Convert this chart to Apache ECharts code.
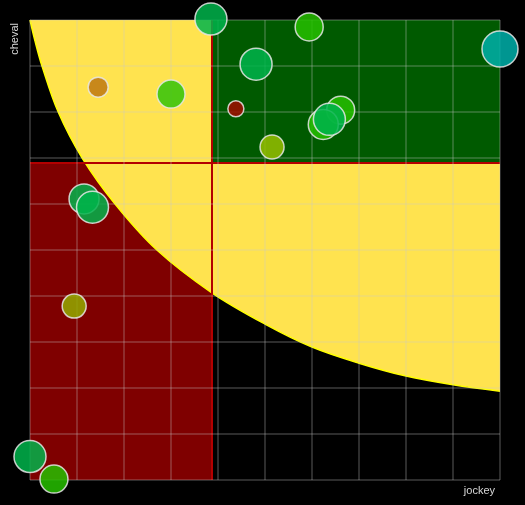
<!DOCTYPE html>
<html>
<head>
<meta charset="utf-8">
<script src="https://cdn.jsdelivr.net/npm/echarts@6/dist/echarts.min.js"></script>
<style>
  html, body { margin: 0; padding: 0; background: #000; }
  #chart { width: 525px; height: 505px; }
</style>
</head>
<body>
<div id="chart"></div>
<script>
// points: jockey (x), cheval (y), bubble radius, colour grade
const jockey = [0, 0.51, 1.45, 3.0, 3.85, 5.94, 4.81, 10, 4.38, 6.61, 6.24, 6.37, 5.15, 1.15, 1.33, 0.94]
const cheval = [0.51, 0.02, 8.54, 8.39, 10.02, 9.85, 9.04, 9.37, 8.07, 8.04, 7.73, 7.84, 7.24, 6.11, 5.93, 3.78]
const radius = [16, 14, 10, 14, 16, 14, 16, 18, 8, 14, 15, 16, 12, 15, 16, 12]
const grade = [6, 5, 1, 4, 6, 5, 6, 7, 0, 5, 5, 6, 3, 6, 6, 2]

// yellow zone boundary
const curveX = [0, 0.11, 0.255, 0.6, 1.11, 1.81, 2.7, 3.87, 5, 6, 7, 8, 9, 10]
const curveY = [10, 9.53, 9, 8, 7, 6, 5, 4.07, 3.39, 2.89, 2.54, 2.26, 2.07, 1.93]

const gradeColors = ['#a00c00', '#be7810', '#93aa00', '#96bf00', '#31c309', '#26bf00', '#00b44b', '#00b0aa']

const points = jockey.map((x, i) => [x, cheval[i], radius[i], grade[i]])
const curve = curveX.map((x, i) => [x, curveY[i]])
const meanX = jockey.reduce((a, b) => a + b, 0) / jockey.length
const meanY = cheval.reduce((a, b) => a + b, 0) / cheval.length

const chart = echarts.init(document.getElementById('chart'))

const axisCommon = {
  type: 'value',
  min: 0,
  max: 10,
  interval: 1,
  z: 4,
  axisLine: { show: false },
  axisTick: { show: false },
  axisLabel: { show: false },
  splitLine: {
    show: true,
    lineStyle: { color: 'rgba(200, 200, 200, 0.3)', width: 1.5 }
  },
  nameTextStyle: {
    color: '#d8d8d8',
    fontSize: 11,
    fontFamily: 'Liberation Sans, Arial, sans-serif'
  }
}

chart.setOption({
  backgroundColor: '#000',
  animation: false,
  grid: { left: 30, right: 25, top: 20, bottom: 25 },
  xAxis: Object.assign({}, axisCommon, {
    name: 'jockey',
    nameLocation: 'end',
    nameGap: -5,
    nameTextStyle: Object.assign({}, axisCommon.nameTextStyle, {
      align: 'right',
      verticalAlign: 'top',
      padding: [5, 0, 0, 0]
    })
  }),
  yAxis: Object.assign({}, axisCommon, {
    name: 'cheval',
    nameLocation: 'end',
    nameRotate: 90,
    nameGap: -3,
    nameTextStyle: Object.assign({}, axisCommon.nameTextStyle, {
      align: 'right',
      verticalAlign: 'bottom',
      padding: [0, 0, 10, 0]
    })
  }),
  visualMap: {
    show: false,
    type: 'piecewise',
    dimension: 3,
    seriesIndex: 3,
    pieces: gradeColors.map((c, i) => ({ value: i, color: c }))
  },
  series: [
    { // quart bas gauche
      type: 'scatter',
      z: 1,
      data: [],
      markArea: {
        z: 1,
        silent: true,
        itemStyle: { color: '#7f0000', opacity: 1 },
        data: [[{ xAxis: 0, yAxis: 0 }, { xAxis: meanX, yAxis: meanY }]]
      }
    },
    { // zone jaune
      type: 'line',
      z: 2,
      smooth: 0.35,
      showSymbol: false,
      silent: true,
      lineStyle: { color: '#ffff00', width: 1.5 },
      areaStyle: { color: '#ffe34f', opacity: 1, origin: 'end' },
      data: curve
    },
    { // quart haut droit + moyennes
      type: 'scatter',
      z: 3,
      data: [],
      markArea: {
        z: 3,
        silent: true,
        itemStyle: { color: '#005a00', opacity: 1 },
        data: [[{ xAxis: meanX, yAxis: meanY }, { xAxis: 10, yAxis: 10 }]]
      },
      markLine: {
        z: 3,
        silent: true,
        symbol: 'none',
        label: { show: false },
        lineStyle: { color: '#b30000', width: 2, type: 'solid' },
        data: [{ xAxis: meanX }, { yAxis: meanY }]
      }
    },
    {
      type: 'scatter',
      z: 5,
      clip: false,
      data: points,
      symbolSize: v => v[2] * 2,
      itemStyle: {
        opacity: 0.85,
        borderColor: '#e6e6e6',
        borderWidth: 1.5
      }
    }
  ]
})
</script>
</body>
</html>
